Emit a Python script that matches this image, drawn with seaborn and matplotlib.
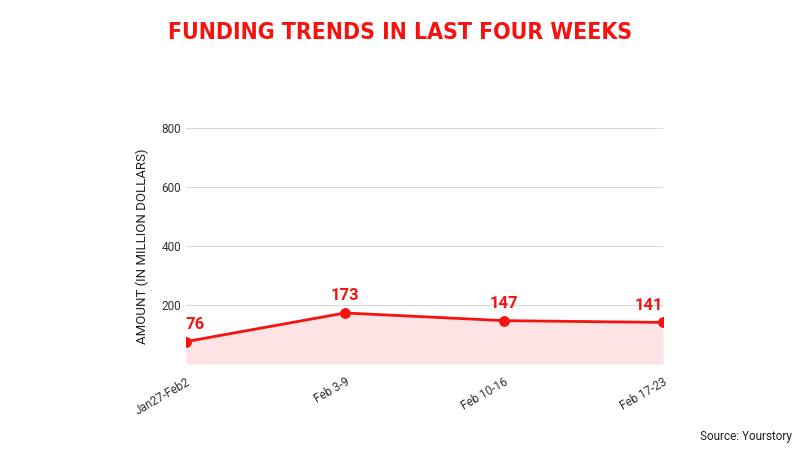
import pandas as pd
import seaborn as sns
import matplotlib.pyplot as plt

weeks = ['Jan27-Feb2', 'Feb 3-9', 'Feb 10-16', 'Feb 17-23']
amounts = [76, 173, 147, 141]

df = pd.DataFrame({'week': weeks, 'amount': amounts})
df['pos'] = range(len(df))

sns.set_style('white')
plt.rcParams['font.family'] = ['Roboto', 'DejaVu Sans']

red = '#f5120f'

fig = plt.figure(figsize=(8, 4.5), dpi=100)
ax = fig.add_axes([0.2325, 0.191, 0.5963, 0.525])

ax.fill_between(df['pos'], df['amount'], 0, color='#fde3e3', lw=0, zorder=1)
sns.lineplot(data=df, x='pos', y='amount', ax=ax, color=red, lw=2,
             marker='o', markersize=7, markeredgecolor=red, zorder=3)

# first and last labels are nudged inside the plot
last = len(df) - 1
for p, v in zip(df['pos'], df['amount']):
    ha = 'left' if p == 0 else ('right' if p == last else 'center')
    ax.annotate(str(v), (p, v), xytext=(0, 7), textcoords='offset points',
                ha=ha, va='bottom', color=red, fontsize=12, fontweight='bold')

ax.set_xlim(0, last)
ax.set_ylim(0, 800)
ax.set_yticks([200, 400, 600, 800])
ax.set_xticks(df['pos'])
ax.set_xticklabels(weeks, rotation=30, ha='right', rotation_mode='anchor')
ax.tick_params(axis='both', labelsize=8.5, colors='#333333', length=0)
ax.tick_params(axis='x', pad=8)
ax.grid(axis='y', color='#d9d9d9', lw=0.8)
ax.set_axisbelow(True)
for s in ax.spines.values():
    s.set_visible(False)
ax.set_xlabel('')
ax.set_ylabel('AMOUNT (IN MILLION DOLLARS)', fontsize=9.5, color='#222222', labelpad=9)

fig.text(0.5, 0.927, 'FUNDING TRENDS IN LAST FOUR WEEKS', ha='center', va='center',
         color=red, fontsize=16.5, fontweight='bold', fontstretch='condensed',
         family=['DejaVu Sans'])
fig.text(0.99, 0.03, 'Source: Yourstory', ha='right', va='center', fontsize=8.5, color='#222222')

fig.savefig('out.png', dpi=100)
